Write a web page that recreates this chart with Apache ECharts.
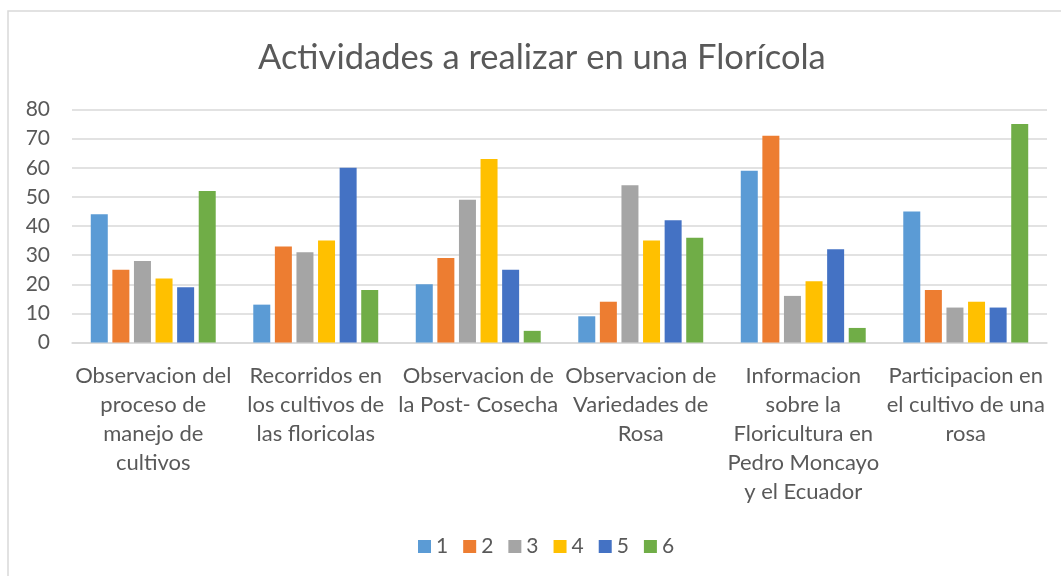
<!DOCTYPE html>
<html>
<head>
<meta charset="utf-8">
<script src="https://cdn.jsdelivr.net/npm/echarts@6/dist/echarts.min.js"></script>
<style>
  html, body { margin: 0; padding: 0; background: #ffffff; }
  #chart { width: 1061px; height: 576px; }
</style>
</head>
<body>
<div id="chart"></div>
<script>
// Activity categories (x axis), with the line breaks used in the labels
const categories = [
  'Observacion del\nproceso de\nmanejo de\ncultivos',
  'Recorridos en\nlos cultivos de\nlas floricolas',
  'Observacion de\nla Post- Cosecha',
  'Observacion de\nVariedades de\nRosa',
  'Informacion\nsobre la\nFloricultura en\nPedro Moncayo\ny el Ecuador',
  'Participacion en\nel cultivo de una\nrosa'
];

// Response counts per rating (1..6) for each activity
const rating1 = [44, 13, 20, 9, 59, 45];
const rating2 = [25, 33, 29, 14, 71, 18];
const rating3 = [28, 31, 49, 54, 16, 12];
const rating4 = [22, 35, 63, 35, 21, 14];
const rating5 = [19, 60, 25, 42, 32, 12];
const rating6 = [52, 18, 4, 36, 5, 75];

const seriesNames = ['1', '2', '3', '4', '5', '6'];
const seriesData = [rating1, rating2, rating3, rating4, rating5, rating6];
const seriesColors = ['#5B9BD5', '#ED7D31', '#A5A5A5', '#FFC000', '#4472C4', '#70AD47'];

const yTicks = { min: 0, max: 80, interval: 10 };

const fontFamily = 'Lato, "Open Sans", "Liberation Sans", sans-serif';
const textColor = '#595959';

const chart = echarts.init(document.getElementById('chart'), null, { renderer: 'canvas' });

chart.setOption({
  backgroundColor: '#ffffff',
  animation: false,
  graphic: [{
    type: 'rect',
    shape: { x: 8, y: 11, width: 1070, height: 600 },
    style: { fill: 'none', stroke: '#d9d9d9', lineWidth: 1.5 },
    silent: true,
    z: -1
  }],
  title: {
    text: 'Actividades a realizar en una Florícola',
    left: 253,
    top: 35,
    textStyle: {
      fontFamily: fontFamily,
      fontWeight: 'normal',
      fontSize: 34.5,
      color: textColor
    }
  },
  legend: {
    data: seriesNames,
    left: 413,
    top: 531,
    icon: 'rect',
    itemWidth: 13,
    itemHeight: 13,
    itemGap: 15,
    textStyle: { fontFamily: fontFamily, fontSize: 21, color: textColor }
  },
  grid: { left: 72, right: 14, top: 109.5, bottom: 233.5, containLabel: false },
  xAxis: {
    type: 'category',
    data: categories,
    axisLine: { show: true, lineStyle: { color: '#d9d9d9', width: 1.5 } },
    axisTick: { show: false },
    axisLabel: {
      interval: 0,
      margin: 19,
      lineHeight: 29,
      fontFamily: fontFamily,
      fontSize: 22,
      color: textColor,
      align: 'center'
    }
  },
  yAxis: {
    type: 'value',
    min: yTicks.min,
    max: yTicks.max,
    interval: yTicks.interval,
    axisLine: { show: false },
    axisTick: { show: false },
    splitLine: { lineStyle: { color: '#d9d9d9', width: 1.5 } },
    axisLabel: {
      margin: 22,
      fontFamily: fontFamily,
      fontSize: 21,
      color: textColor
    }
  },
  series: seriesNames.map((name, i) => ({
    name: name,
    type: 'bar',
    data: seriesData[i],
    barWidth: 17,
    barGap: '27%',
    itemStyle: { color: seriesColors[i] }
  }))
});
</script>
</body>
</html>
